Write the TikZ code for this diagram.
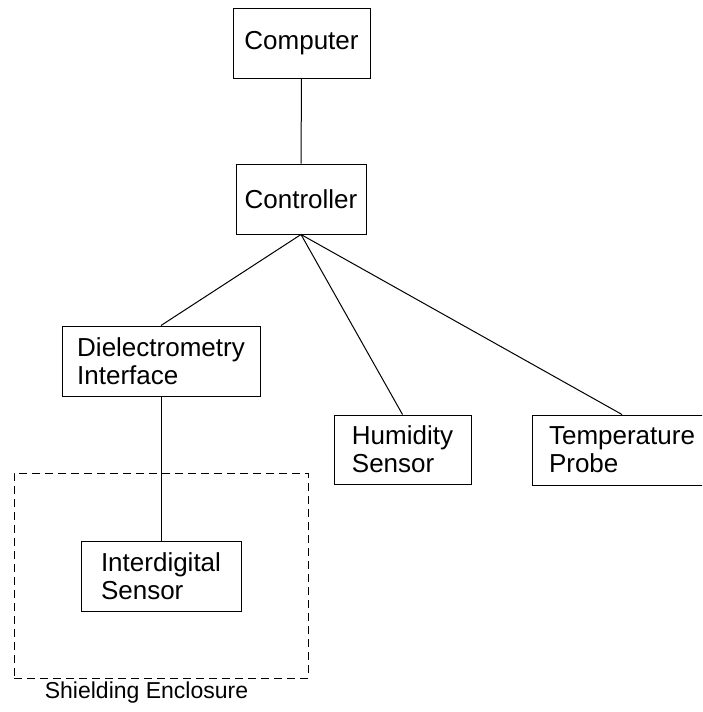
\documentclass[tikz,border=0pt]{standalone}
\usepackage{fontspec}
\setmainfont{Liberation Sans}
\usetikzlibrary{fit}

\begin{document}
\begin{tikzpicture}[x=0.5pt,y=-0.5pt,line width=0.5pt,
    unit/.style={draw,rectangle,align=left,inner sep=0pt,
        font=\fontsize{13}{14}\selectfont,minimum height=35pt},
    link/.style={draw},
    enclosure/.style={draw,dash pattern=on 4pt off 2.5pt,inner sep=0pt}]
    \clip (0,0) rectangle (702,712);
    \useasboundingbox (0,0) rectangle (702,712);

    \node[unit,minimum width=68.5pt] (computer) at (301.5,43) {Computer};
    \node[unit,minimum width=65pt] (controller) at (301,199) {Controller};
    \node[unit,minimum width=99pt] (dielectric) at (161,361) {Dielectrometry\\Interface};
    \node[unit,minimum width=68.5pt,minimum height=34.5pt] (humidity) at (402.5,449.5) {Humidity\\Sensor};
    \node[unit,minimum width=90pt] (temperature) at (622,450) {Temperature\\Probe};
    \node[unit,minimum width=80pt] (interdigital) at (161,576) {Interdigital\\Sensor};

    % shielding box round the sensor
    \coordinate (shieldtl) at (14,473);
    \coordinate (shieldbr) at (308,678);
    \node[enclosure,fit=(shieldtl)(shieldbr)] (shield) {};
    \node[anchor=base,font=\fontsize{11.5}{13}\selectfont] (shieldlabel) at (146.5,698) {Shielding Enclosure};

    \path[link] (computer.south) -- (controller.north);
    \path[link] (controller.south) -- (dielectric.north);
    \path[link] (controller.south) -- (humidity.north);
    \path[link] (controller.south) -- (temperature.north);
    \path[link] (dielectric.south) -- (interdigital.north);
\end{tikzpicture}
\end{document}
